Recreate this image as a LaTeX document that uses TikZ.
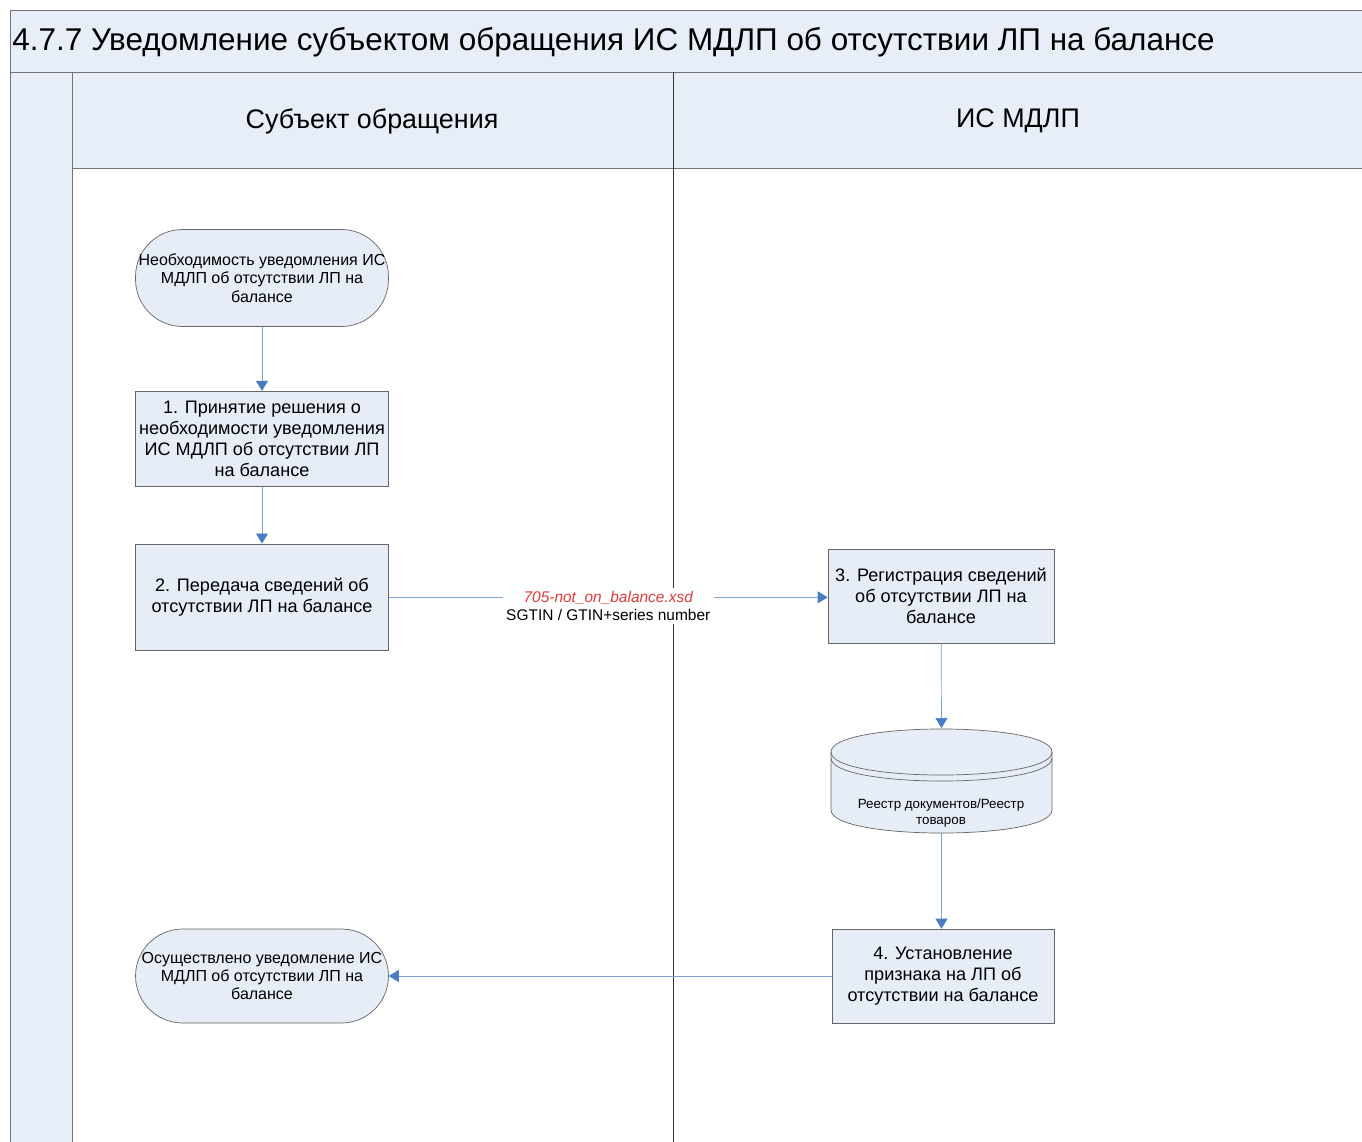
\documentclass[tikz,border=0pt]{standalone}
\usepackage{fontspec}
\setmainfont{Liberation Sans}
\usetikzlibrary{arrows.meta, positioning}

\definecolor{lanefill}{HTML}{E8EEF8}
\definecolor{boxfill}{HTML}{E6EDF7}
\definecolor{flowline}{HTML}{7EA3D3}
\definecolor{flowtip}{HTML}{4A7BC4}
\definecolor{xsdred}{HTML}{E03A3A}

\begin{document}
\begin{tikzpicture}[x=0.02cm, y=-0.02cm,
        act/.style={rectangle, draw=black!60, fill=boxfill, minimum width=5.06cm,
                    minimum height=1.9cm, align=center, inner sep=1pt,
                    font=\fontsize{10.3}{12}\selectfont},
        term/.style={rectangle, rounded corners=0.94cm, draw=black!60, fill=boxfill,
                     minimum width=5.06cm, minimum height=1.94cm, align=center,
                     inner sep=1pt, font=\fontsize{9.1}{10.5}\selectfont},
        flow/.style={draw=flowline, -{Triangle[length=2mm, width=2.4mm, color=flowtip]}},
        frame/.style={draw=black!55},
        node distance=1.2cm]
      \useasboundingbox (0,0) rectangle (1362,1142);
      \fill[lanefill] (10,10) rectangle (1362,72);
      \fill[lanefill] (10,72) rectangle (72,1142);
      \fill[lanefill] (72,72) rectangle (1362,168);
      \draw[frame] (1362,10) -- (10,10) -- (10,1142);
      \draw[frame] (10,72) -- (1362,72);
      \draw[frame] (72,72) -- (72,1142);
      \draw[frame] (72,168) -- (1362,168);
      \draw[black!80] (673,72) -- (673,1142);
      \node[anchor=west, inner sep=0pt, font=\fontsize{17.9}{21}\selectfont] (title) at (12,42)
           {4.7.7 Уведомление субъектом обращения ИС МДЛП об отсутствии ЛП на балансе};
      \node[font=\fontsize{15.3}{18}\selectfont] (hsubj) at (372,121) {Субъект обращения};
      \node[font=\fontsize{15.3}{18}\selectfont] (hmdlp) at (1018,121) {ИС МДЛП};

      \node[term] (start) at (262,278) {Необходимость уведомления ИС\\МДЛП об отсутствии ЛП на\\балансе};
      \node[act, below=1.28cm of start] (decide) {1. Принятие решения о\\необходимости уведомления\\ИС МДЛП об отсутствии ЛП\\на балансе};
      \node[act, minimum height=2.14cm, below=1.14cm of decide] (send) {2. Передача сведений об\\отсутствии ЛП на балансе};
      \node[act, minimum width=4.52cm, minimum height=1.88cm] (register) at (941,596) {3. Регистрация сведений\\об отсутствии ЛП на\\балансе};
      \node[act, minimum width=4.44cm, minimum height=1.88cm] (mark) at (943,976) {4. Установление\\признака на ЛП об\\отсутствии на балансе};
      \node[term, minimum height=1.88cm] (done) at (262,976) {Осуществлено уведомление ИС\\МДЛП об отсутствии ЛП на\\балансе};

      \path[fill=boxfill, draw=black!60] (831,752) -- (831,810)
           .. controls (831,840.7) and (1052,840.7) .. (1052,810) -- (1052,752)
           .. controls (1052,721.3) and (831,721.3) .. (831,752) -- cycle;
      \draw[black!60] (831,752) .. controls (831,782.7) and (1052,782.7) .. (1052,752);
      \draw[black!60] (831,758) .. controls (831,788.7) and (1052,788.7) .. (1052,758);
      \coordinate (regtop) at (941.5,728);
      \coordinate (regbot) at (941.5,833);
      \node[align=center, font=\fontsize{7.6}{9.6}\selectfont] (registry) at (941,813) {Реестр документов/Реестр\\товаров};

      \draw[flow] (start) -- (decide);
      \draw[flow] (decide) -- (send);
      \draw[flow] (send.east) -- node[fill=white, yshift=-0.18cm, align=center, inner sep=2pt,
                  font=\fontsize{8.8}{10.2}\selectfont] (xsd)
                  {\textcolor{xsdred}{\itshape 705-not\_on\_balance.xsd}\\SGTIN / GTIN+series number} (register.west |- send.east);
      \draw[flow] (register) -- (regtop);
      \draw[flow] (regbot) -- (mark.north -| regbot);
      \draw[flow] (mark) -- (done);
    \end{tikzpicture}
\end{document}
